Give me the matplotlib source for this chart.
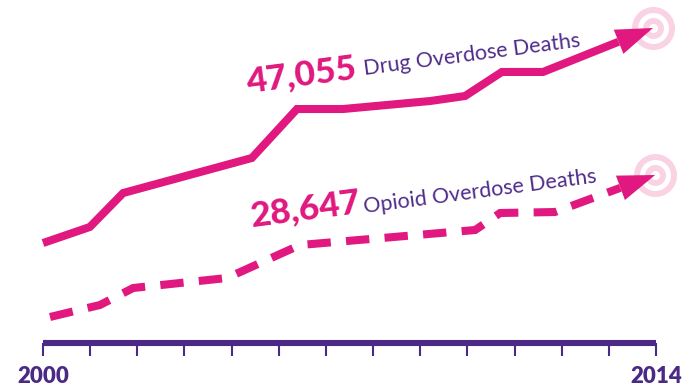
import matplotlib
matplotlib.use("Agg")
import matplotlib.pyplot as plt
from matplotlib.patches import Polygon
import numpy as np

# ---- data (thousands of deaths, stylised positions) ----
drug_years = [2000.0, 2001.07, 2001.83, 2004.77, 2005.80, 2006.85, 2008.84, 2009.64, 2010.48, 2011.42, 2013.93]
drug_values = [20.13, 22.14, 26.39, 30.78, 36.91, 36.91, 37.91, 38.54, 41.55, 41.55, 47.055]

opioid_years = [2000.16, 2001.30, 2002.06, 2004.20, 2005.87, 2009.87, 2010.44, 2011.69, 2013.98]
opioid_values = [10.87, 12.37, 14.50, 15.75, 19.88, 21.76, 23.89, 24.01, 28.647]

tick_years = np.linspace(2000, 2014, 14)
tick_labels = ["2000"] + [""] * 12 + ["2014"]

drug_number = "47,055"
drug_label = "Drug Overdose Deaths"
opioid_number = "28,647"
opioid_label = "Opioid Overdose Deaths"

# ---- styles ----
MAGENTA = "#E0187F"
PURPLE = "#4B2A85"
TEXT_PURPLE = "#4F2C8A"
PINK = "#F9D2E4"
LW = 5.8
HEAD_LEN_PX = 37
HEAD_HALF_PX = 13

fig = plt.figure(figsize=(6.87, 3.88), dpi=100)
ax = fig.add_axes([43 / 687, (388 - 342.5) / 388, 613 / 687, 342.5 / 388])
ax.set_xlim(2000, 2014)
ax.set_ylim(7.675, 50.56)

for s in ["top", "left", "right"]:
    ax.spines[s].set_visible(False)
ax.spines["bottom"].set_color(PURPLE)
ax.spines["bottom"].set_linewidth(4.4)
ax.spines["bottom"].set_capstyle("butt")
ax.set_yticks([])
ax.set_xticks(tick_years, tick_labels)
ax.tick_params(axis="x", direction="out", length=9.7, width=1.5, color=PURPLE,
               pad=7, labelsize=16, labelcolor=PURPLE)
for t in ax.get_xticklabels():
    t.set_family(["Lato", "DejaVu Sans"])
    t.set_fontweight("heavy")


def target(x, y):
    for r_px, c in [(21.5, PINK), (15.5, "white"), (10.5, PINK), (4.5, "white")]:
        d_pt = 2 * r_px * 72 / 100
        ax.scatter([x], [y], s=d_pt ** 2, c=c, linewidths=0, zorder=1, clip_on=False)


def arrow_line(xs, ys, dashed):
    tip = ax.transData.transform((xs[-1], ys[-1]))
    prev = ax.transData.transform((xs[-2], ys[-2]))
    d = tip - prev
    u = d / np.hypot(*d)
    n = np.array([-u[1], u[0]])
    base = tip - u * HEAD_LEN_PX
    base_data = ax.transData.inverted().transform(base)
    lx = list(xs[:-1]) + [base_data[0]]
    ly = list(ys[:-1]) + [base_data[1]]
    line, = ax.plot(lx, ly, color=MAGENTA, lw=LW, solid_joinstyle="miter",
                    dash_joinstyle="miter", solid_capstyle="butt",
                    dash_capstyle="butt", zorder=3, clip_on=False)
    if dashed:
        line.set_dashes((2.9, 1.9))
    head = np.array([tip, base + n * HEAD_HALF_PX, base - n * HEAD_HALF_PX])
    head_data = ax.transData.inverted().transform(head)
    ax.add_patch(Polygon(head_data, closed=True, facecolor=MAGENTA, edgecolor="none",
                         zorder=4, clip_on=False))


target(drug_years[-1], drug_values[-1])
target(opioid_years[-1], opioid_values[-1])
arrow_line(drug_years, drug_values, dashed=False)
arrow_line(opioid_years, opioid_values, dashed=True)

ROT = 7.5
num_kw = dict(rotation=ROT, rotation_mode="anchor", ha="left", va="baseline",
              fontsize=25.5, fontweight="black", color=MAGENTA, family=["Lato", "DejaVu Sans"])
lab_kw = dict(rotation=ROT, rotation_mode="anchor", ha="left", va="baseline",
              fontsize=15.5, fontweight="normal", color=TEXT_PURPLE, family=["Lato", "DejaVu Sans"])

ax.text(2004.68, 38.92, drug_number, **num_kw)
ax.text(2007.35, 41.17, drug_label, **lab_kw)
ax.text(2004.77, 22.14, opioid_number, **num_kw)
ax.text(2007.35, 23.89, opioid_label, **lab_kw)

fig.savefig("out.png", dpi=100, facecolor="white")
